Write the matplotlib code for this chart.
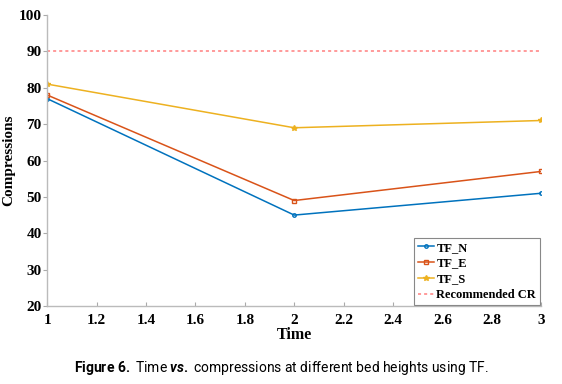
import matplotlib
matplotlib.use('Agg')
import matplotlib.pyplot as plt

time = [1, 2, 3]
tf_n = [77, 45, 51]
tf_e = [78, 49, 57]
tf_s = [81, 69, 71]
recommended_cr = 90

plt.rcParams['font.family'] = ['Liberation Serif']
plt.rcParams['font.weight'] = 'bold'
plt.rcParams['mathtext.fontset'] = 'custom'
plt.rcParams['mathtext.rm'] = 'Roboto'
plt.rcParams['mathtext.bf'] = 'Roboto:bold'
plt.rcParams['mathtext.it'] = 'Roboto:italic'

fig = plt.figure(figsize=(5.62, 3.84), dpi=100)
ax = fig.add_axes([0.084, 0.203, 0.879, 0.758])

ax.plot(time, tf_n, color='#0072BD', marker='o', markersize=2.5, lw=1.1,
        markerfacecolor='none', label='TF_N')
ax.plot(time, tf_e, color='#D95319', marker='s', markersize=2.5, lw=1.1,
        markerfacecolor='none', label='TF_E')
ax.plot(time, tf_s, color='#EDB120', marker='*', markersize=4, lw=1.1,
        label='TF_S')
ax.axhline(recommended_cr, color='#FF7F7F', ls=(0, (2, 2)), lw=1.1,
           label='Recommended CR')

ax.set_xlim(1, 3)
ax.set_ylim(20, 100)
ax.set_xticks([1, 1.2, 1.4, 1.6, 1.8, 2, 2.2, 2.4, 2.6, 2.8, 3])
ax.set_xticklabels(['1', '1.2', '1.4', '1.6', '1.8', '2', '2.2', '2.4', '2.6', '2.8', '3'])
ax.set_yticks(range(20, 101, 10))

for s in ['top', 'right']:
    ax.spines[s].set_visible(False)
for s in ['left', 'bottom']:
    ax.spines[s].set_color('#BBBBBB')
    ax.spines[s].set_linewidth(1.0)
ax.tick_params(axis='x', direction='in', length=3, color='#AAAAAA',
               labelsize=11, pad=6)
ax.tick_params(axis='y', direction='out', length=3, color='#AAAAAA',
               labelsize=11, pad=1)

ax.set_xlabel('Time', fontsize=11.5, fontweight='bold', labelpad=0)
ax.set_ylabel('Compressions', fontsize=11, fontweight='bold')
ax.yaxis.set_label_coords(-0.064, 0.5)

leg = ax.legend(loc='lower right', fontsize=9, handlelength=1.3,
                handletextpad=0.2, borderpad=0.3, labelspacing=0.3,
                fancybox=False, framealpha=1, borderaxespad=0.1)
leg.get_frame().set_edgecolor('#888888')
leg.get_frame().set_linewidth(0.8)

fig.text(0.5, 0.03,
         r'$\mathbf{Figure\ 6.}$ Time $\mathit{vs.}$ compressions at different bed heights using TF.',
         ha='center', fontsize=10, family='Roboto', fontweight='normal')

fig.savefig('out.png', dpi=100)
